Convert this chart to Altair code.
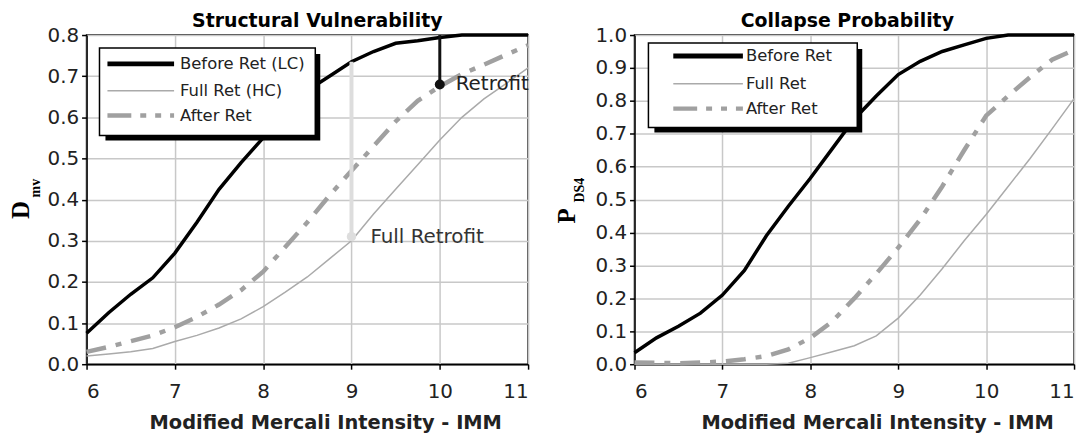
import altair as alt
import pandas as pd

# ---------------- data ----------------
imm = [6, 6.25, 6.5, 6.75, 7, 7.25, 7.5, 7.75, 8, 8.25, 8.5, 8.75, 9,
       9.25, 9.5, 9.75, 10, 10.25, 10.5, 10.75, 11]

# Structural vulnerability (D_mv)
sv_before = [0.075, 0.125, 0.17, 0.21, 0.27, 0.345, 0.425, 0.49, 0.55, 0.61, 0.665,
             0.70, 0.735, 0.76, 0.78, 0.786, 0.794, 0.80, 0.80, 0.80, 0.80]
sv_full = [0.02, 0.025, 0.03, 0.038, 0.055, 0.07, 0.088, 0.11, 0.14, 0.175, 0.212,
           0.256, 0.30, 0.365, 0.425, 0.485, 0.545, 0.60, 0.645, 0.682, 0.72]
sv_after = [0.03, 0.042, 0.056, 0.07, 0.09, 0.115, 0.145, 0.18, 0.225, 0.285, 0.345,
            0.41, 0.47, 0.53, 0.59, 0.64, 0.675, 0.705, 0.728, 0.752, 0.775]

# Collapse probability (P_DS4)
cp_before = [0.035, 0.08, 0.115, 0.155, 0.21, 0.285, 0.39, 0.48, 0.565, 0.655, 0.745,
             0.815, 0.88, 0.92, 0.95, 0.97, 0.99, 1.0, 1.0, 1.0, 1.0]
cp_full = [0.0, 0.0, 0.0, 0.0, 0.0, 0.0, 0.0, 0.003, 0.02, 0.038, 0.056, 0.086, 0.14,
           0.21, 0.29, 0.375, 0.455, 0.54, 0.625, 0.715, 0.807]
cp_after = [0.005, 0.004, 0.003, 0.005, 0.008, 0.015, 0.025, 0.045, 0.08, 0.13, 0.2,
            0.275, 0.354, 0.44, 0.54, 0.65, 0.755, 0.815, 0.872, 0.925, 0.955]

sv_legend = ["Before Ret (LC)", "Full Ret (HC)", "After Ret"]
cp_legend = ["Before Ret", "Full Ret", "After Ret"]

retro_x = [10, 9]
retro_top = [0.8, 0.735]
retro_bottom = [0.68, 0.31]
retro_labels = ["Retrofit", "Full Retrofit"]

x_ticks = [6, 7, 8, 9, 10, 11]
sv_ticks = [0.0, 0.1, 0.2, 0.3, 0.4, 0.5, 0.6, 0.7, 0.8]
cp_ticks = [0.0, 0.1, 0.2, 0.3, 0.4, 0.5, 0.6, 0.7, 0.8, 0.9, 1.0]

# ---------------- styles ----------------
FONT = "DejaVu Sans"
SERIF = "Liberation Serif"
H = 331
C_BEFORE, C_FULL, C_AFTER = "#000000", "#aaaaaa", "#a0a0a0"
W_BEFORE, W_FULL, W_AFTER = 3.5, 1.5, 4.5
DASH_AFTER = [20, 10, 6, 10]
DASH_LEGEND = [24, 9, 6, 9, 6, 9]
XTITLE = "Modified Mercali Intensity - IMM"

one = pd.DataFrame({"k": [0]})


def panel(title, title_dx, ymax, yticks, before, full, after, labels,
          ymain, ysub, width, xtitle_x, box, rows, line_x, text_x,
          ylab_x, ylab_y, sub_x, sub_y, annotate):
    df = pd.DataFrame({"imm": imm, "before": before, "full": full, "after": after})
    base = alt.Chart(df)
    xaxis = alt.Axis(values=x_ticks, format="d", title=XTITLE, titleX=xtitle_x)
    xscale = alt.Scale(domain=[6, 11], nice=False, zero=False)
    yscale = alt.Scale(domain=[0, ymax], nice=False)
    yaxis = alt.Axis(values=yticks, format=".1f", title=None)

    def xenc():
        return alt.X("imm:Q", scale=xscale, axis=xaxis, title=XTITLE)

    def yenc(field):
        return alt.Y(f"{field}:Q", scale=yscale, axis=yaxis, title=None)

    layers = [
        base.mark_line(color=C_FULL, strokeWidth=W_FULL).encode(x=xenc(), y=yenc("full")),
        base.mark_line(color=C_AFTER, strokeWidth=W_AFTER, strokeDash=DASH_AFTER).encode(
            x=xenc(), y=yenc("after")),
        base.mark_line(color=C_BEFORE, strokeWidth=W_BEFORE).encode(x=xenc(), y=yenc("before")),
    ]

    if annotate:
        adf = pd.DataFrame({"imm": retro_x, "top": retro_top, "bottom": retro_bottom,
                            "label": retro_labels})
        full_a = alt.Chart(adf.iloc[[1]])
        ret_a = alt.Chart(adf.iloc[[0]])
        layers += [
            full_a.mark_rule(color="#dddddd", strokeWidth=4).encode(
                x=xenc(), y=yenc("top"), y2="bottom:Q"),
            full_a.mark_point(filled=True, color="#dddddd", size=90, opacity=1).encode(
                x=xenc(), y=yenc("bottom")),
            full_a.mark_text(align="left", baseline="middle", dx=19, fontSize=20,
                             font=FONT, color="#333333").encode(
                x=xenc(), y=yenc("bottom"), text="label:N"),
            ret_a.mark_rule(color="#111111", strokeWidth=3).encode(
                x=xenc(), y=yenc("top"), y2="bottom:Q"),
            ret_a.mark_point(filled=True, color="#111111", size=100, opacity=1).encode(
                x=xenc(), y=yenc("bottom")),
            ret_a.mark_text(align="left", baseline="middle", dx=16, fontSize=20,
                            font=FONT, color="#222222").encode(
                x=xenc(), y=yenc("bottom"), text="label:N"),
        ]

    # manual legend box with drop shadow
    bl, br, bt, bb = box
    o = alt.Chart(one)
    layers += [
        o.mark_rect(color="#000000").encode(
            x=alt.value(bl + 6), x2=alt.value(br + 5), y=alt.value(bt + 6), y2=alt.value(bb + 5)),
        o.mark_rect(fill="#ffffff", stroke="#000000", strokeWidth=1.5).encode(
            x=alt.value(bl), x2=alt.value(br), y=alt.value(bt), y2=alt.value(bb)),
    ]
    styles = [(C_BEFORE, 5, None), (C_FULL, 1.5, None), (C_AFTER, 4.5, DASH_LEGEND)]
    for (col, sw, dash), lab, ry in zip(styles, labels, rows):
        kw = dict(color=col, strokeWidth=sw)
        if dash:
            kw["strokeDash"] = dash
        layers.append(o.mark_rule(**kw).encode(
            x=alt.value(line_x[0]), x2=alt.value(line_x[1]), y=alt.value(ry)))
        layers.append(o.mark_text(align="left", baseline="middle", fontSize=16.5,
                                  font=FONT, color="#222222", text=lab).encode(
            x=alt.value(text_x), y=alt.value(ry)))

    # y-axis title with subscript
    layers += [
        o.mark_text(text=ymain, font=SERIF, fontSize=25, fontWeight="bold", angle=270,
                    align="center", baseline="middle", color="#000000").encode(
            x=alt.value(ylab_x), y=alt.value(ylab_y)),
        o.mark_text(text=ysub, font=SERIF, fontSize=14, fontWeight="bold", angle=270,
                    align="center", baseline="middle", color="#000000").encode(
            x=alt.value(sub_x), y=alt.value(sub_y)),
    ]

    return alt.layer(*layers).properties(
        width=width, height=H,
        title=alt.TitleParams(title, font=FONT, fontSize=19, fontWeight="bold",
                              color="#000000", anchor="middle", dx=title_dx, offset=-6),
    )


left = panel("Structural Vulnerability", 10, 0.8, sv_ticks, sv_before, sv_full, sv_after,
             sv_legend, "D", "mv", 444, 240,
             (13, 230, 13, 101), [29, 56, 81], (21, 88), 94,
             -66, 176, -51, 154, True)
right = panel("Collapse Probability", -7, 1.0, cp_ticks, cp_before, cp_full, cp_after,
              cp_legend, "P", "DS4", 442, 244,
              (14, 224, 8, 93), [21, 49, 74], (39, 109), 112,
              -68, 182, -55, 156, False)

chart = alt.hconcat(left, right, spacing=107, bounds="flush").properties(
    padding={"left": 0, "top": 2, "right": 0, "bottom": 0}
).configure_view(
    stroke="#000000", strokeWidth=1.5
).configure_axis(
    labelFont=FONT, labelFontSize=20, labelColor="#222222",
    titleFont=FONT, titleFontSize=19.5, titleFontWeight="bold", titleColor="#222222",
    domainColor="#000000", domainWidth=1.5,
    tickColor="#000000", tickWidth=1.5, tickSize=5,
    gridColor="#c8c8c8", gridWidth=1.5, grid=True,
).configure_axisX(
    labelPadding=12, titlePadding=13,
).configure_axisY(
    labelPadding=3,
)

chart.save("out.html", embed_options={"renderer": "svg", "actions": False})
